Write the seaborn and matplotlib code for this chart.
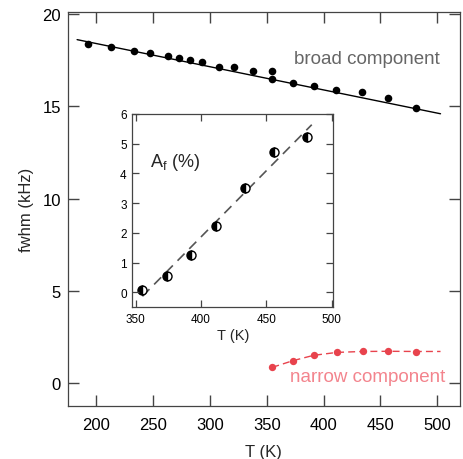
import numpy as np
import pandas as pd
import matplotlib
matplotlib.use("Agg")
import matplotlib.pyplot as plt
import seaborn as sns

# ---- data ----
broad_T = [192.6, 212.6, 232.9, 247.6, 262.6, 272.6, 282.6, 292.6, 307.9, 321.4,
           337.6, 354.7, 354.7, 372.9, 391.7, 411.4, 433.8, 457.0, 481.7]
broad_fwhm = [18.38, 18.20, 18.00, 17.90, 17.72, 17.61, 17.52, 17.41, 17.15, 17.15,
              16.90, 16.92, 16.49, 16.25, 16.09, 15.91, 15.80, 15.47, 14.93]
broad_fit_T = [183.0, 503.0]
broad_fit_fwhm = [18.62, 14.60]

narrow_T = [354.9, 373.0, 391.2, 411.8, 434.4, 456.8, 481.7]
narrow_fwhm = [0.85, 1.21, 1.52, 1.70, 1.72, 1.72, 1.68]
narrow_curve_T = [354.9, 373.0, 391.2, 411.8, 434.4, 456.8, 481.7, 503.0]
narrow_curve_fwhm = [0.85, 1.21, 1.50, 1.66, 1.71, 1.72, 1.71, 1.71]

af_T = [355.0, 373.5, 392.0, 411.5, 433.3, 455.8, 481.0]
af_pct = [0.09, 0.54, 1.26, 2.23, 3.51, 4.73, 5.23]
af_fit_T = [355.0, 484.8]
af_fit_pct = [-0.13, 5.64]

main_xticks = [200, 250, 300, 350, 400, 450, 500]
main_yticks = [0, 5, 10, 15, 20]
inset_xticks = [350, 400, 450, 500]
inset_yticks = [0, 1, 2, 3, 4, 5, 6]

# ---- style ----
sns.set_style("ticks")
spine_col = "#444444"
plt.rcParams.update({
    "font.family": ["Liberation Sans", "DejaVu Sans"],
    "mathtext.fontset": "custom",
    "mathtext.rm": "Liberation Sans",
    "mathtext.it": "Liberation Sans",
    "axes.axisbelow": False,
    "xtick.direction": "in", "ytick.direction": "in",
    "xtick.top": True, "ytick.right": True,
    "xtick.bottom": True, "ytick.left": True,
    "xtick.major.size": 8, "ytick.major.size": 8,
    "xtick.major.width": 1.0, "ytick.major.width": 1.0,
    "xtick.color": spine_col, "ytick.color": spine_col,
    "xtick.labelcolor": "black", "ytick.labelcolor": "black",
})

red = "#e8434d"
red_text = "#f3848d"

fig = plt.figure(figsize=(4.64, 4.60), dpi=100)
ax = fig.add_axes([0.1466, 0.1159, 0.991 - 0.1466, 0.971 - 0.1159])

df_b = pd.DataFrame({"T": broad_T, "fwhm": broad_fwhm})
sns.lineplot(x=broad_fit_T, y=broad_fit_fwhm, ax=ax, color="black", lw=1.0,
             sort=False, estimator=None)
sns.scatterplot(data=df_b, x="T", y="fwhm", ax=ax, color="black", s=30,
                edgecolor="black", linewidth=0, zorder=3)

sns.lineplot(x=narrow_curve_T, y=narrow_curve_fwhm, ax=ax, color=red, lw=1.0,
             dashes=False, linestyle=(0, (5, 3)), sort=False, estimator=None)
sns.scatterplot(x=narrow_T, y=narrow_fwhm, ax=ax, color=red, s=28,
                linewidth=0, zorder=3)

ax.set_xlim(175, 520)
ax.set_ylim(-1.23, 20.1)
ax.set_xticks(main_xticks)
ax.set_yticks(main_yticks)
ax.tick_params(which="major", direction="in", length=8, width=1.0,
               color=spine_col, bottom=True, left=True, top=True, right=True,
               labelsize=12)
ax.tick_params(axis="x", pad=8)
ax.tick_params(axis="y", pad=5)
for s in ax.spines.values():
    s.set_color(spine_col)
    s.set_linewidth(0.9)
ax.set_xlabel("T (K)", fontsize=12, labelpad=9)
ax.set_ylabel("fwhm (kHz)", fontsize=12, labelpad=6)

ax.text(502, 17.57, "broad component", color="#666666", fontsize=13.5,
        ha="right", va="center")
ax.text(507, 0.33, "narrow component", color=red_text, fontsize=13.5,
        ha="right", va="center")

# ---- inset ----
ins = fig.add_axes([0.285, 0.3298, 0.718 - 0.285, 0.75 - 0.3298])
sns.lineplot(x=af_fit_T, y=af_fit_pct, ax=ins, color="#555555", lw=1.2,
             linestyle=(0, (6, 4)), sort=False, estimator=None)
sns.lineplot(x=af_T, y=af_pct, ax=ins, color="black", linestyle="",
             marker="o", markersize=6.5, fillstyle="left",
             markerfacecoloralt="white", markeredgecolor="black",
             markeredgewidth=1.0, sort=False, estimator=None)
ins.set_xlim(347.2, 501.2)
ins.set_ylim(-0.5, 6.0)
ins.set_xticks(inset_xticks)
ins.set_yticks(inset_yticks)
ins.tick_params(which="major", direction="in", length=5, width=0.9,
                color=spine_col, bottom=True, left=True, top=True, right=True,
                labelsize=8.5, pad=4)
for s in ins.spines.values():
    s.set_color(spine_col)
    s.set_linewidth(0.9)
ins.set_xlabel("T (K)", fontsize=10.5, labelpad=2)
ins.set_ylabel("")
ins.text(0.088, 0.752, r"A$_\mathrm{f}$ (%)", transform=ins.transAxes,
         fontsize=13, ha="left", va="center")

fig.savefig("out.png", dpi=100)
